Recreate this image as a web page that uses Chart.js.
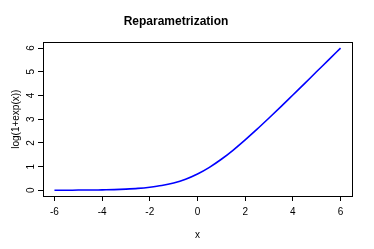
<!DOCTYPE html>
<html>
<head>
<meta charset="utf-8">
<script src="https://cdn.jsdelivr.net/npm/chart.js@4/dist/chart.umd.min.js"></script>
<style>
  html, body { margin: 0; padding: 0; background: #fff; }
  #wrap { width: 374px; height: 249px; }
</style>
</head>
<body>
<div id="wrap"><canvas id="softplus"></canvas></div>
<script>
// values
const xs = [-6, -5.5, -5, -4.5, -4, -3.5, -3, -2.5, -2, -1.5, -1, -0.5, 0, 0.5, 1, 1.5, 2, 2.5, 3, 3.5, 4, 4.5, 5, 5.5, 6];
const ys = [0.00, 0.00, 0.01, 0.01, 0.02, 0.03, 0.05, 0.08, 0.13, 0.20, 0.31, 0.47, 0.69, 0.97, 1.31, 1.70, 2.13, 2.58, 3.05, 3.53, 4.02, 4.51, 5.01, 5.50, 6.00];
const xTicks = [-6, -4, -2, 0, 2, 4, 6];
const yTicks = [0, 1, 2, 3, 4, 5, 6];

const fontFam = "'Liberation Sans', Arial, Helvetica, sans-serif";

// R style box around the plot region
const boxPlugin = {
  id: "box",
  afterDraw(chart) {
    const a = chart.chartArea;
    const c = chart.ctx;
    c.save();
    c.strokeStyle = "#000";
    c.lineWidth = 1;
    c.strokeRect(Math.round(a.left) + 0.5, Math.round(a.top) + 0.5,
      Math.round(a.right - a.left), Math.round(a.bottom - a.top));
    c.restore();
  }
};

const ctx = document.getElementById("softplus").getContext("2d");
new Chart(ctx, {
  type: "line",
  data: {
    datasets: [{
      data: xs.map((x, i) => ({ x: x, y: ys[i] })),
      borderColor: "#0000ff",
      borderWidth: 1.6,
      pointRadius: 0,
      cubicInterpolationMode: "monotone",
      fill: false
    }]
  },
  plugins: [boxPlugin],
  options: {
    responsive: true,
    maintainAspectRatio: false,
    animation: false,
    layout: { padding: { left: 0, right: 22, top: 0, bottom: 0 } },
    plugins: {
      legend: { display: false },
      tooltip: { enabled: false },
      title: {
        display: true,
        text: "Reparametrization",
        color: "#000",
        font: { family: fontFam, size: 12, weight: "bold" },
        padding: { top: 14, bottom: 14 }
      }
    },
    scales: {
      x: {
        type: "linear",
        min: -6.48,
        max: 6.48,
        afterBuildTicks: s => { s.ticks = xTicks.map(v => ({ value: v })); },
        afterFit: s => { s.height = 53; },
        grid: { display: true, drawOnChartArea: false, drawTicks: true, tickLength: 5, color: "#000" },
        border: { display: false },
        ticks: { color: "#000", font: { family: fontFam, size: 10 }, padding: 5, maxRotation: 0 },
        title: { display: true, text: "x", color: "#000", font: { family: fontFam, size: 10 }, padding: { top: 4, bottom: 8 } }
      },
      y: {
        type: "linear",
        min: -0.24,
        max: 6.24,
        afterBuildTicks: s => { s.ticks = yTicks.map(v => ({ value: v })); },
        afterFit: s => { s.width = 43; },
        grid: { display: true, drawOnChartArea: false, drawTicks: true, tickLength: 5, color: "#000" },
        border: { display: false },
        ticks: { color: "#000", font: { family: fontFam, size: 10 }, padding: 4, minRotation: 90, maxRotation: 90, crossAlign: "center" },
        title: { display: true, text: "log(1+exp(x))", color: "#000", font: { family: fontFam, size: 10 }, padding: { top: 10, bottom: 0 } }
      }
    }
  }
});
</script>
</body>
</html>
